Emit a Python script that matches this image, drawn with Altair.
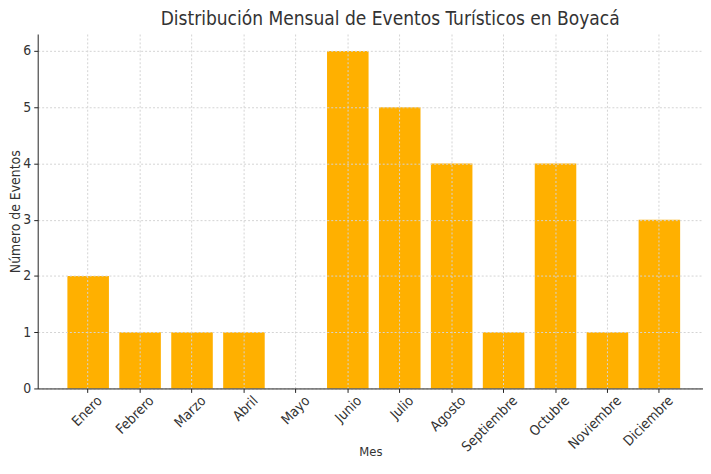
import altair as alt
import pandas as pd

meses = ["Enero", "Febrero", "Marzo", "Abril", "Mayo", "Junio", "Julio",
         "Agosto", "Septiembre", "Octubre", "Noviembre", "Diciembre"]
eventos = [2, 1, 1, 1, 0, 6, 5, 4, 1, 4, 1, 3]

df = pd.DataFrame({"Mes": meses, "Eventos": eventos})

FONT = "DejaVu Sans Condensed, DejaVu Sans"
GRID = "#d3d3d3"

chart = alt.Chart(df).mark_bar(color="#FFB000").encode(
    x=alt.X("Mes:N", sort=meses, title="Mes",
            scale=alt.Scale(paddingInner=0.2, paddingOuter=0.506, align=0.565),
            axis=alt.Axis(labelAngle=315, labelAlign="right", labelBaseline="middle",
                          labelOffset=12, labelPadding=6, tickSize=4,
                          labelFontSize=14, labelColor="#333333",
                          grid=True, gridDash=[2, 2], gridColor=GRID, gridWidth=1,
                          domainColor="#222222", tickColor="#222222",
                          titleFontSize=13, titleFontWeight="normal", titleColor="#333333",
                          titleBaseline="top", titleY=58, zindex=1)),
    y=alt.Y("Eventos:Q", title="Número de Eventos",
            scale=alt.Scale(domain=[0, 6.3], nice=False),
            axis=alt.Axis(values=[0, 1, 2, 3, 4, 5, 6], tickSize=4, labelPadding=3,
                          labelFontSize=14, labelColor="#333333",
                          grid=True, gridDash=[2, 2], gridColor=GRID, gridWidth=1,
                          domainColor="#222222", tickColor="#222222",
                          titleFontSize=14, titleFontWeight="normal", titleColor="#333333",
                          titleAngle=270, titleX=-22, titleY=179,
                          titleAlign="center", titleBaseline="middle", zindex=1)),
).properties(
    width=672, height=358,
    title=alt.TitleParams("Distribución Mensual de Eventos Turísticos en Boyacá",
                          fontSize=19.2, fontWeight="normal", color="#333333",
                          anchor="middle", dx=20, offset=5),
    autosize=alt.AutoSizeParams(type="none"),
    padding={"left": 30, "top": 24, "right": 0, "bottom": 70},
).configure(font=FONT).configure_view(stroke=None)

chart.save("out.html", embed_options={"renderer": "svg", "actions": False})
